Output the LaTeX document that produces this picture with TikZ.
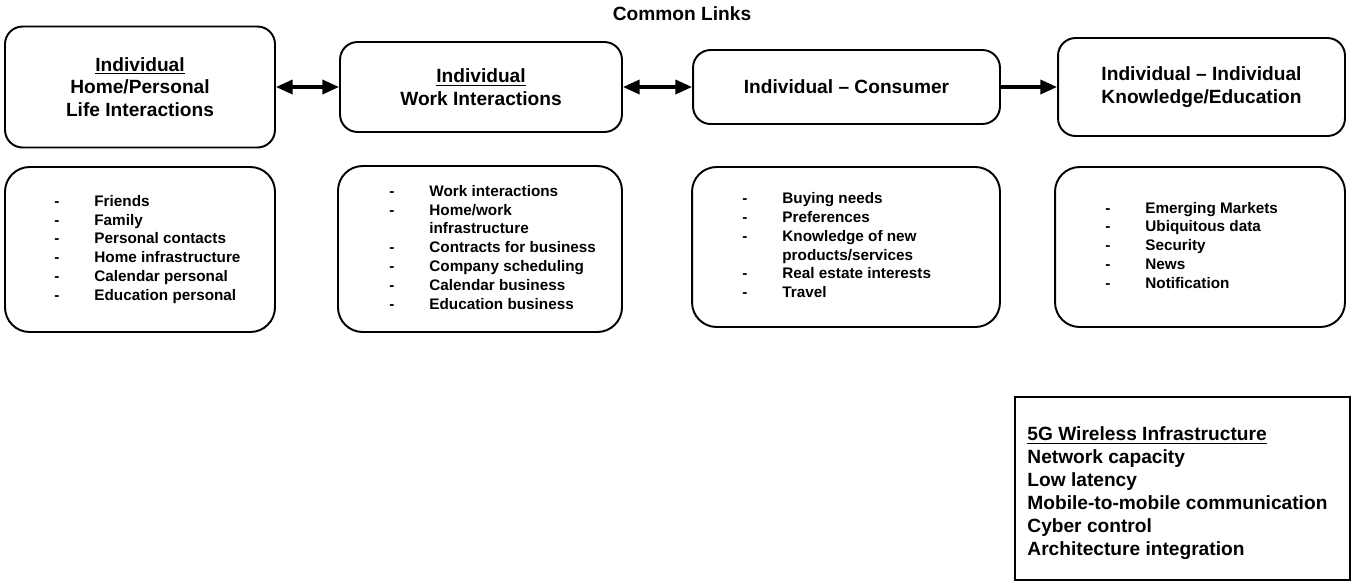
\documentclass[tikz,border=0pt]{standalone}
\usepackage{fontspec}
\setmainfont{Liberation Sans}
\usetikzlibrary{
  positioning,
  arrows.meta,
}

\tikzset{
  title/.style={font=\bfseries\fontsize{10.9}{13}\selectfont},
  linkbox/.style={draw, line width=1.1pt, rounded corners=10pt, align=center,
    font=\bfseries\fontsize{10.9}{13}\selectfont},
  listbox/.style={draw, line width=1.1pt, rounded corners=14pt},
  listtext/.style={inner sep=0pt, font=\bfseries\fontsize{8.7}{10.7}\selectfont},
  infobox/.style={draw, line width=1.1pt},
  infotext/.style={inner sep=0pt, align=left, font=\bfseries\fontsize{10.9}{13.1}\selectfont},
  link/.style={line width=1.9pt, -{Triangle[length=9.5pt,width=8pt]}},
  twolink/.style={line width=1.9pt, {Triangle[length=9.5pt,width=8pt]}-{Triangle[length=9.5pt,width=8pt]}},
}

\newcommand{\dashlist}[1]{\begin{tabular}{@{}p{0.8cm}@{}l@{}}#1\end{tabular}}

\begin{document}
\begin{tikzpicture}[x=0.02cm, y=-0.02cm]
\useasboundingbox (0,0) rectangle (1363,583);

\node[title] (common) at (682,14) {Common Links};

% upper row
\node[linkbox, minimum width=5.4cm, minimum height=2.42cm] (home) at (140,87)
  {\underline{Individual}\\Home/Personal\\Life Interactions};
\node[linkbox, minimum width=5.64cm, minimum height=1.8cm] (work) at (481,87)
  {\underline{Individual}\\Work Interactions};
\node[linkbox, minimum width=6.14cm, minimum height=1.48cm] (cons) at (846.5,87)
  {Individual -- Consumer};
\node[linkbox, minimum width=5.74cm, minimum height=1.96cm] (know) at (1201.5,87)
  {Individual -- Individual\\Knowledge/Education};

\draw[twolink] (home.east) -- (work.west);
\draw[twolink] (work.east) -- (cons.west);
\draw[link] (cons.east) -- (know.west);

% lower row
\node[listbox, minimum width=5.4cm, minimum height=3.3cm] (homelist) at (140,249.5) {};
\node[listbox, minimum width=5.68cm, minimum height=3.32cm] (worklist) at (480,249) {};
\node[listbox, minimum width=6.16cm, minimum height=3.2cm] (conslist) at (846,247) {};
\node[listbox, minimum width=5.8cm, minimum height=3.2cm] (knowlist) at (1200,247) {};

\node[listtext, right=1cm of homelist.west] (hometext) {\dashlist{
  - & Friends\\
  - & Family\\
  - & Personal contacts\\
  - & Home infrastructure\\
  - & Calendar personal\\
  - & Education personal}};
\node[listtext, right=1.04cm of worklist.west] (worktext) {\dashlist{
  - & Work interactions\\
  - & Home/work\\
    & infrastructure\\
  - & Contracts for business\\
  - & Company scheduling\\
  - & Calendar business\\
  - & Education business}};
\node[listtext, right=1.02cm of conslist.west] (constext) {\dashlist{
  - & Buying needs\\
  - & Preferences\\
  - & Knowledge of new\\
    & products/services\\
  - & Real estate interests\\
  - & Travel}};
\node[listtext, right=1.02cm of knowlist.west] (knowtext) {\dashlist{
  - & Emerging Markets\\
  - & Ubiquitous data\\
  - & Security\\
  - & News\\
  - & Notification}};

% infrastructure
\node[infobox, minimum width=6.7cm, minimum height=3.66cm] (wireless) at (1182.5,488.5) {};
\node[infotext, right=0.26cm of wireless.west, yshift=-0.1cm] (wirelesstext)
  {\underline{5G Wireless Infrastructure}\\
   Network capacity\\
   Low latency\\
   Mobile-to-mobile communication\\
   Cyber control\\
   Architecture integration};
\end{tikzpicture}
\end{document}
